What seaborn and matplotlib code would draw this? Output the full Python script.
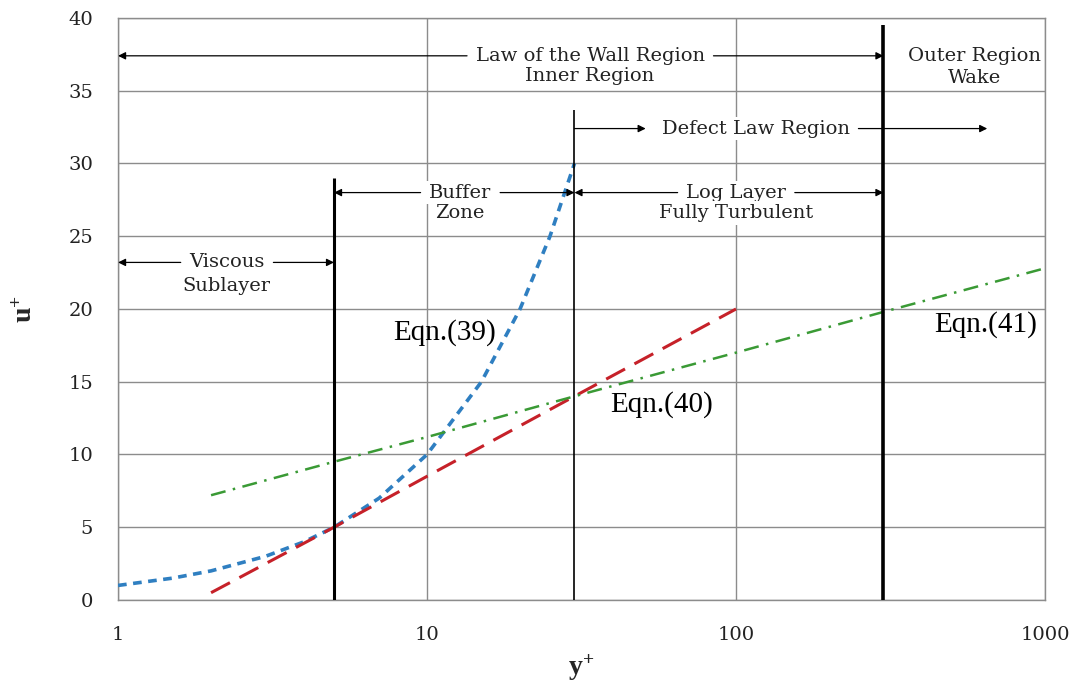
import numpy as np
import pandas as pd
import matplotlib
matplotlib.use("Agg")
import matplotlib.pyplot as plt
import seaborn as sns

# curves
eq39_y = [1, 1.5, 2, 3, 4, 5, 7, 10, 15, 20, 25, 30]
eq39_u = [1, 1.5, 2, 3, 4, 5, 7, 10, 15, 20, 25, 30]
eq40_y = [2, 5, 10, 30, 100]
eq40_u = [0.5, 5.0, 8.5, 14.0, 20.0]
eq41_y = [2, 5, 10, 30, 100, 300, 1000]
eq41_u = [7.2, 9.5, 11.2, 14.0, 17.0, 19.8, 22.8]

# region boundaries
bound_y = [5, 30, 300]
bound_top = [29.0, 33.7, 39.5]
bound_lw = [2.2, 1.2, 2.6]

x_ticks = [1, 10, 100, 1000]
x_ticklabels = ["1", "10", "100", "1000"]
y_ticks = [0, 5, 10, 15, 20, 25, 30, 35, 40]

sns.set_theme(style="whitegrid")
plt.rcParams["font.family"] = ["DejaVu Serif"]
plt.rcParams["mathtext.default"] = "regular"

fig = plt.figure(figsize=(10.88, 6.89), dpi=100)
ax = fig.add_axes([0.1085, 0.1292, 0.852, 0.8447])
ax.set_facecolor("white")

sns.lineplot(x=eq39_y, y=eq39_u, ax=ax, color="#2f7fc1", lw=2.6,
             linestyle=(0, (2.4, 1.8)), zorder=4)
sns.lineplot(x=eq40_y, y=eq40_u, ax=ax, color="#c62129", lw=2.2,
             linestyle=(0, (7, 3.5)), zorder=4)
sns.lineplot(x=eq41_y, y=eq41_u, ax=ax, color="#3a9a35", lw=1.8,
             linestyle=(0, (6, 3, 1, 3)), zorder=4)

ax.vlines(bound_y, 0, bound_top, colors="black", lw=bound_lw, zorder=5)

ax.set_xscale("log")
ax.set_xlim(1, 1000)
ax.set_ylim(0, 40)
ax.set_xticks(x_ticks)
ax.set_xticklabels(x_ticklabels)
ax.set_yticks(y_ticks)
ax.minorticks_off()
ax.grid(True, color="#8c8c8c", lw=1.0)
for s in ax.spines.values():
    s.set_color("#8c8c8c")
    s.set_linewidth(1.0)
ax.tick_params(axis="x", pad=13, labelsize=14, colors="#222222")
ax.tick_params(axis="y", pad=12, labelsize=14, colors="#222222")

ax.set_xlabel("y$^{+}$", family="Liberation Serif", fontsize=20, fontweight="bold", labelpad=6)
ax.set_ylabel("u$^{+}$", family="Liberation Serif", fontsize=20, fontweight="bold", labelpad=22)

arrow = dict(arrowstyle="-|>", color="black", lw=0.9, mutation_scale=11,
             shrinkA=4, shrinkB=0)
box = dict(boxstyle="square,pad=0.15", fc="white", ec="none")
fs = 14

# (first line, second line, x, y first line, y second line, arrow targets)
regions = [
    ("Law of the Wall Region", "Inner Region", 33.7, 37.4, 36.0, [1, 300]),
    ("Log Layer", "Fully Turbulent", 100, 28.0, 26.6, [30, 300]),
    ("Buffer", "Zone", 12.8, 28.0, 26.6, [5, 30]),
    ("Viscous", "Sublayer", 2.25, 23.2, 21.6, [1, 5]),
]
for line1, line2, xc, y1, y2, targets in regions:
    for i, t in enumerate(targets):
        ax.annotate(line1, xy=(t, y1), xytext=(xc, y1), ha="center", va="center",
                    fontsize=fs, color="#222222" if i == 0 else "none",
                    bbox=box if i == 0 else None, arrowprops=arrow, zorder=6)
    if line2:
        ax.text(xc, y2, line2, ha="center", va="center", fontsize=fs,
                color="#222222", bbox=box, zorder=6)

# defect law region: both arrows point outward to the right
ax.annotate("Defect Law Region", xy=(650, 32.4), xytext=(116, 32.4), ha="center",
            va="center", fontsize=fs, color="#222222", bbox=box,
            arrowprops=arrow, zorder=6)
ax.annotate("", xy=(51, 32.4), xytext=(30, 32.4),
            arrowprops=dict(arrow, shrinkA=0), zorder=6)

ax.text(593, 37.4, "Outer Region", ha="center", va="center", fontsize=fs,
        color="#222222", bbox=box, zorder=6)
ax.text(593, 35.9, "Wake", ha="center", va="center", fontsize=fs,
        color="#222222", bbox=box, zorder=6)

eqn_labels = ["Eqn.(39)", "Eqn.(40)", "Eqn.(41)"]
eqn_x = [11.4, 57.6, 640]
eqn_u = [18.4, 13.4, 18.9]
for lab, ex, eu in zip(eqn_labels, eqn_x, eqn_u):
    ax.text(ex, eu, lab, ha="center", va="center", fontsize=21,
            family="Liberation Serif", color="black", zorder=7)

fig.savefig("out.png", dpi=100)
